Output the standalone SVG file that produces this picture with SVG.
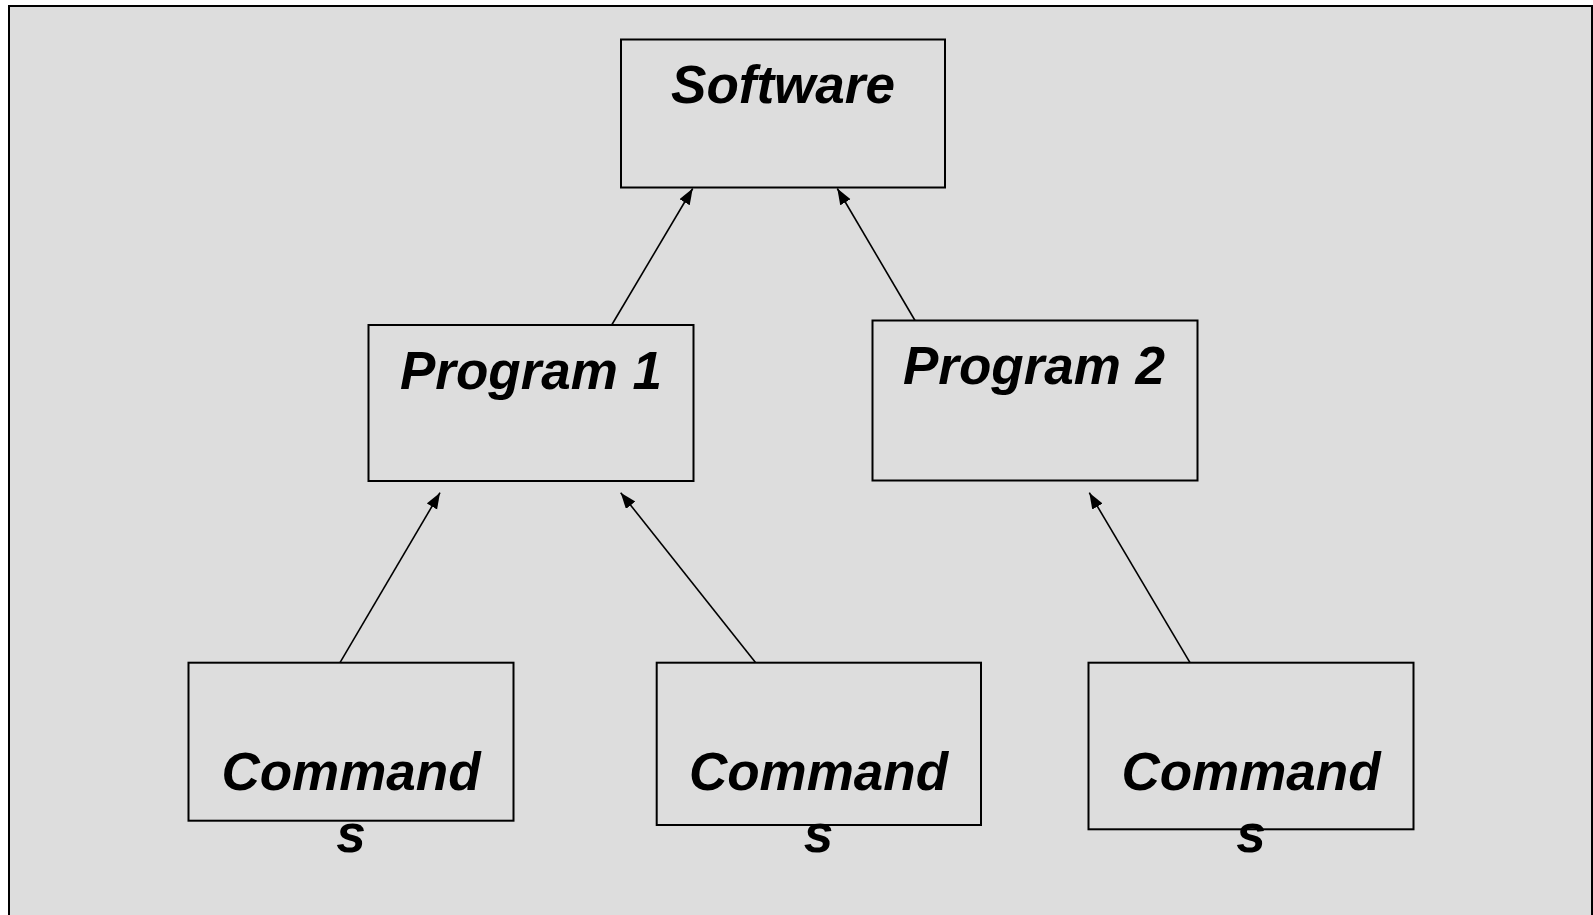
<svg xmlns="http://www.w3.org/2000/svg" width="1593" height="915" viewBox="0 0 1593 915">
<defs>
<style>
.box{fill:#dddddd;stroke:#000;stroke-width:2}
.lbl{font-family:"Liberation Sans",Arial,sans-serif;font-weight:bold;font-style:italic;font-size:53px;fill:#000;text-anchor:middle}
.edge{stroke:#000;stroke-width:1.6;fill:none;marker-end:url(#arr)}
</style>
<marker id="arr" markerUnits="userSpaceOnUse" markerWidth="18" markerHeight="14" refX="16" refY="6" orient="auto">
<path d="M0,0 L16,6 L0,12 z" fill="#000"/>
</marker>
</defs>
<rect x="0" y="0" width="1593" height="915" fill="#ffffff"/>
<rect x="9" y="6" width="1583" height="920" fill="#dddddd" stroke="#000" stroke-width="2"/>
<g id="connectors">
<line class="edge" x1="611.7" y1="325" x2="692.7" y2="188.5"/>
<line class="edge" x1="915" y1="320.5" x2="837.3" y2="188.5"/>
<line class="edge" x1="340" y1="662.7" x2="440" y2="492.7"/>
<line class="edge" x1="755.7" y1="662.7" x2="620.7" y2="492.7"/>
<line class="edge" x1="1190" y1="662.7" x2="1089.3" y2="492.7"/>
</g>
<g id="software">
<rect class="box" x="621" y="39.5" width="324" height="148"/>
<text class="lbl" x="783" y="103">Software</text>
</g>
<g id="program1">
<rect class="box" x="368.5" y="325" width="325" height="156"/>
<text class="lbl" x="531" y="389">Program 1</text>
</g>
<g id="program2">
<rect class="box" x="872.5" y="320.5" width="325" height="160"/>
<text class="lbl" x="1034" y="384">Program 2</text>
</g>
<g id="commands1">
<rect class="box" x="188.5" y="662.7" width="325" height="158"/>
<text class="lbl" x="351" y="790">Command</text>
<text class="lbl" x="351" y="852">s</text>
</g>
<g id="commands2">
<rect class="box" x="656.7" y="662.7" width="324.3" height="162.3"/>
<text class="lbl" x="818.5" y="790">Command</text>
<text class="lbl" x="818.5" y="852">s</text>
</g>
<g id="commands3">
<rect class="box" x="1088.5" y="662.7" width="325" height="166.6"/>
<text class="lbl" x="1251" y="790">Command</text>
<text class="lbl" x="1251" y="852">s</text>
</g>
</svg>
